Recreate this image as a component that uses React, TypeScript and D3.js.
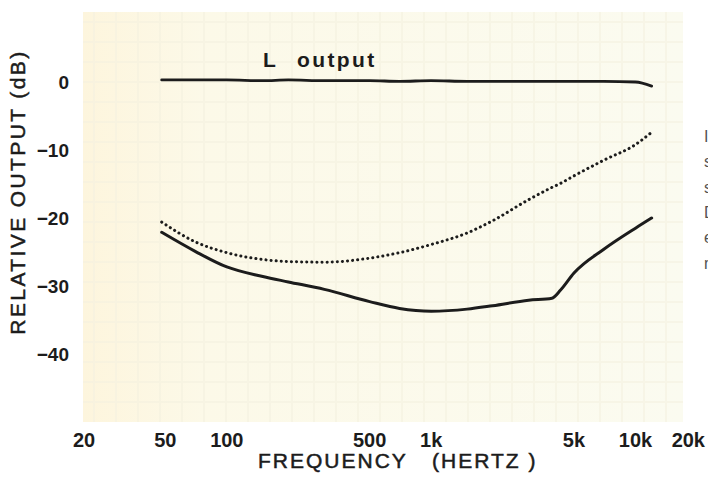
import * as d3 from 'd3';

// frequencies (Hz) sampled along the curves
const freqs = [48, 70, 100, 150, 200, 300, 500, 700, 1000, 1500, 2000, 3000, 3900, 4300, 5000, 7000, 10000, 12000];
// relative output (dB)
const lOutput = [0.3, 0.3, 0.3, 0.2, 0.3, 0.2, 0.2, 0.1, 0.2, 0.1, 0.1, 0.1, 0.1, 0.1, 0.1, 0.1, 0.0, -0.6];
const dottedSeries = [-20.6, -23.5, -25.1, -26.1, -26.4, -26.5, -25.9, -25.1, -23.9, -22.2, -20.4, -17.3, -15.5, -14.9, -13.8, -11.5, -9.2, -7.4];
const solidSeries = [-22.1, -24.9, -27.2, -28.6, -29.4, -30.5, -32.3, -33.3, -33.7, -33.4, -32.9, -32.1, -31.8, -30.6, -28.1, -24.6, -21.5, -20.0];

const xTicks = [20, 50, 100, 500, 1000, 5000, 10000, 20000];
const xTickLabels = ['20', '50', '100', '500', '1k', '5k', '10k', '20k'];
const yTicks = [0, -10, -20, -30, -40];
const sideLetters = ['I', 's', 's', 'D', 'e', 'm'];

const W = 708;
const H = 477;
const ink = '#1c1c1c';

export default function App() {
  const x = d3.scaleLog().domain([20, 20000]).range([84, 697]);
  const y = d3.scaleLinear().domain([-40, 0]).range([354, 82]);

  const line = d3
    .line<number>()
    .x((d, i) => x(freqs[i]))
    .y((d) => y(d))
    .curve(d3.curveMonotoneX);

  const plot = { x0: 83, x1: 683, y0: 12, y1: 422 };
  const vGrid = d3.range(plot.x0 + 11, plot.x1, 22);
  const hGrid = d3.range(plot.y0 + 10, plot.y1, 20);
  const fmt = d3.format('d');
  const last = xTicks.length - 1;

  return (
    <svg
      width={W}
      height={H}
      style={{ position: 'fixed', left: 0, top: 0, display: 'block', background: '#fff' }}
      fontFamily="'Liberation Sans', Arial, sans-serif"
    >
      <defs>
        <linearGradient id="paper" x1="0" x2="1" y1="0" y2="0">
          <stop offset="0" stopColor="#fdf5dd" />
          <stop offset="0.2" stopColor="#fcf9e8" />
          <stop offset="1" stopColor="#fbfbf0" />
        </linearGradient>
      </defs>

      {/* scanned graph paper */}
      <rect x={plot.x0} y={plot.y0} width={plot.x1 - plot.x0} height={plot.y1 - plot.y0} fill="url(#paper)" />
      <g stroke="#f4f1e0" strokeWidth={2} opacity={0.55}>
        {vGrid.map((gx) => (
          <line key={'v' + gx} x1={gx} x2={gx} y1={plot.y0} y2={plot.y1} />
        ))}
        {hGrid.map((gy) => (
          <line key={'h' + gy} x1={plot.x0} x2={plot.x1} y1={gy} y2={gy} />
        ))}
      </g>

      {/* curves */}
      <path d={line(lOutput) || ''} fill="none" stroke={ink} strokeWidth={2.8} strokeLinecap="round" />
      <path
        d={line(dottedSeries) || ''}
        fill="none"
        stroke={ink}
        strokeWidth={3}
        strokeLinecap="round"
        strokeDasharray="0.1 5"
      />
      <path d={line(solidSeries) || ''} fill="none" stroke={ink} strokeWidth={3} strokeLinecap="round" />

      {/* legend label */}
      <text x={263} y={67} fontSize={21} fontWeight="bold" fill={ink}>L</text>
      <text x={297} y={67} fontSize={21} fontWeight="bold" fill={ink} letterSpacing={2.4}>output</text>

      {/* y axis */}
      {yTicks.map((t) => (
        <text key={t} x={69} y={y(t) + 7} fontSize={19} fontWeight="bold" textAnchor="end" fill={ink}>
          {fmt(t)}
        </text>
      ))}
      <text
        transform={`translate(25,${192}) rotate(-90)`}
        fontSize={21}
        textAnchor="middle"
        fill={ink}
        stroke={ink}
        strokeWidth={0.5}
        letterSpacing={2.4}
      >
        RELATIVE OUTPUT (dB)
      </text>

      {/* x axis */}
      {xTicks.map((t, i) => (
        <text
          key={t}
          x={i === last ? W - 3 : x(t)}
          y={447}
          fontSize={20}
          fontWeight="bold"
          textAnchor={i === last ? 'end' : 'middle'}
          fill={ink}
        >
          {xTickLabels[i]}
        </text>
      ))}
      <text x={258} y={468} fontSize={21} fill={ink} stroke={ink} strokeWidth={0.5} letterSpacing={2}>
        FREQUENCY
      </text>
      <text x={432} y={468} fontSize={21} fill={ink} stroke={ink} strokeWidth={0.5} letterSpacing={2}>
        (HERTZ )
      </text>

      {/* column of neighbouring text, cut at the page edge as in the scan */}
      <g transform="rotate(0.001)">
        {sideLetters.map((c, i) => (
          <text key={i} x={704} y={142 + i * 25.3} fontSize={16} fill="#4a4a4a" opacity={0.95}>
            {c}
          </text>
        ))}
      </g>
    </svg>
  );
}
